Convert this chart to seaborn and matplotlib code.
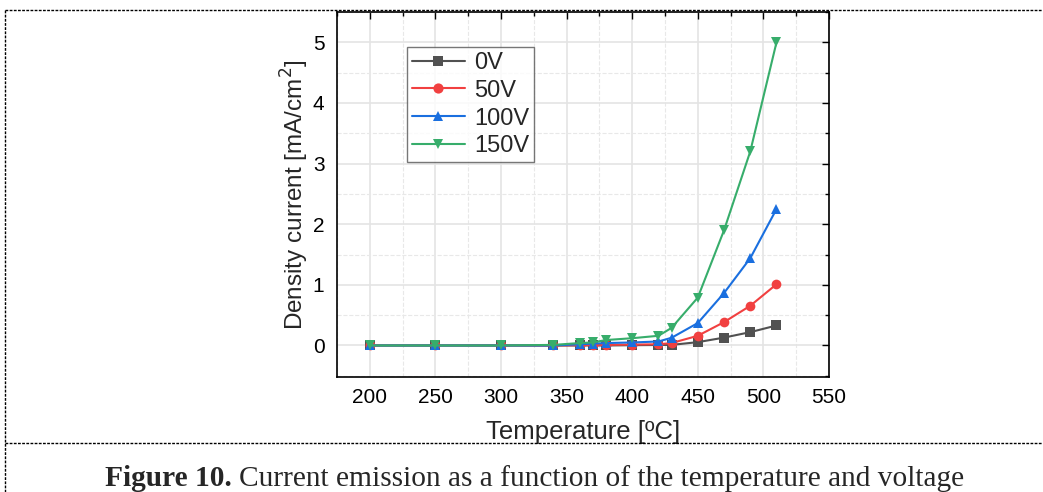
import numpy as np
import pandas as pd
import matplotlib
matplotlib.use("Agg")
import matplotlib.pyplot as plt
from matplotlib.lines import Line2D
from matplotlib.ticker import MultipleLocator
import seaborn as sns

# data
temperature = [200, 250, 300, 340, 360, 370, 380, 400, 420, 430, 450, 470, 490, 510]
j_0v = [0, 0, 0, 0, 0, 0, 0, 0.005, 0.008, 0.01, 0.055, 0.13, 0.22, 0.33]
j_50v = [0, 0, 0, 0, 0.005, 0.008, 0.01, 0.015, 0.02, 0.04, 0.16, 0.385, 0.655, 1.01]
j_100v = [0, 0, 0, 0, 0.02, 0.03, 0.04, 0.05, 0.066, 0.127, 0.37, 0.865, 1.44, 2.25]
j_150v = [0, 0, 0, 0.01, 0.04, 0.05, 0.09, 0.12, 0.16, 0.29, 0.79, 1.9, 3.2, 5.0]
voltages = ["0V", "50V", "100V", "150V"]

df = pd.DataFrame({
    "T": temperature * 4,
    "J": j_0v + j_50v + j_100v + j_150v,
    "V": [v for v in voltages for _ in temperature],
})

sns.set_style("white")
plt.rcParams["font.family"] = ["Liberation Sans", "DejaVu Sans"]

colors = {"0V": "#515151", "50V": "#F14040", "100V": "#1A6FDF", "150V": "#37AD6B"}
markers = {"0V": "s", "50V": "o", "100V": "^", "150V": "v"}

fig = plt.figure(figsize=(10.43, 4.92), dpi=100)
ax = fig.add_axes([0.3231, 0.2337, 0.4717, 0.7419])

sns.lineplot(data=df, x="T", y="J", hue="V", style="V", hue_order=voltages,
             style_order=voltages, palette=colors, markers=markers, dashes=False,
             markersize=7, linewidth=1.5, markeredgewidth=0, ax=ax)

ax.set_xlim(175, 550)
ax.set_ylim(-0.52, 5.5)
ax.xaxis.set_major_locator(MultipleLocator(50))
ax.xaxis.set_minor_locator(MultipleLocator(25))
ax.yaxis.set_major_locator(MultipleLocator(1))
ax.yaxis.set_minor_locator(MultipleLocator(0.5))
ax.grid(which="major", color="#e4e4e4", linewidth=1.2, linestyle="-")
ax.grid(which="minor", color="#e8e8e8", linewidth=0.8, linestyle="--")
ax.set_axisbelow(True)
ax.tick_params(which="both", direction="in", top=True, right=True, colors="black",
               labelsize=15, width=1)
ax.tick_params(which="major", length=5)
ax.tick_params(which="minor", length=3)
ax.tick_params(axis="x", pad=8)
ax.tick_params(axis="y", pad=9)
for s in ax.spines.values():
    s.set_color("black")
    s.set_linewidth(1.2)

ax.set_xlabel("Temperature [ºC]", fontsize=18.5, labelpad=9)
ax.set_ylabel("Density current [mA/cm$^2$]", fontsize=17.5, labelpad=1)

leg = ax.legend(loc="upper left", bbox_to_anchor=(0.142, 0.904), fontsize=17,
                frameon=True, fancybox=False, edgecolor="#555555", handlelength=2.25,
                handletextpad=0.4, labelspacing=0.25, borderpad=0.2,
                borderaxespad=0, markerscale=1.05)
leg.get_frame().set_linewidth(1)

# page frame lines around the figure
fig.add_artist(Line2D([0.005, 1.0], [0.979, 0.979], color="black", linewidth=1,
                      linestyle=(0, (2, 1))))
fig.add_artist(Line2D([0.005, 1.0], [0.1, 0.1], color="black", linewidth=1,
                      linestyle=(0, (2, 1))))
fig.add_artist(Line2D([0.005, 0.005], [0.0, 0.979], color="black", linewidth=1,
                      linestyle=(0, (2, 1))))

# caption: bold label followed by regular text
fig.canvas.draw()
r = fig.canvas.get_renderer()
t1 = fig.text(0.1005, 0.012, "Figure 10. ", fontsize=21.2, fontweight="bold",
              family="Liberation Serif", ha="left", va="baseline")
bb = t1.get_window_extent(renderer=r)
fig.text(bb.x1 / fig.bbox.width, 0.012,
         "Current emission as a function of the temperature and voltage",
         fontsize=21.2, family="Liberation Serif", ha="left", va="baseline")

fig.savefig("out.png", dpi=100)
